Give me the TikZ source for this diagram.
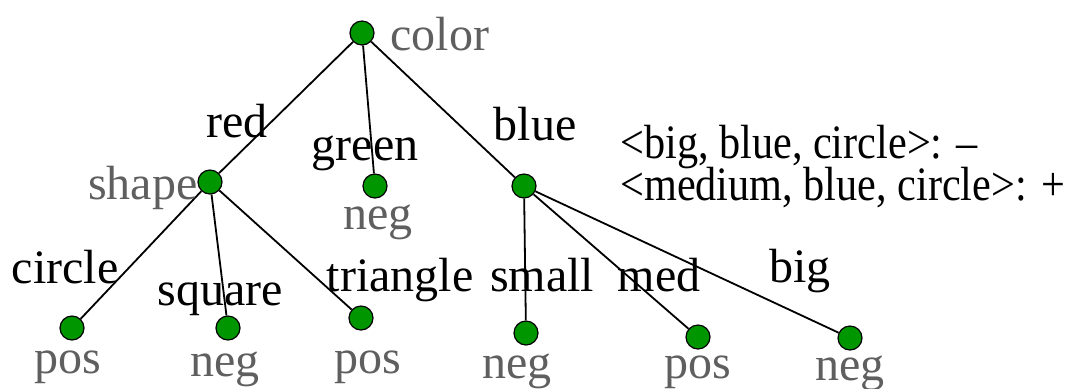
\documentclass[tikz,border=0pt]{standalone}
\usepackage{fontspec}
\usepackage{graphicx}
\setmainfont{Liberation Serif}
\definecolor{leafgreen}{RGB}{0,150,0}
\definecolor{lblgray}{RGB}{95,95,95}
\begin{document}
\begin{tikzpicture}[x=0.5pt,y=-0.5pt,
  font=\fontsize{24}{28}\selectfont,
  dot/.style={circle,draw=black,line width=0.6pt,fill=leafgreen,minimum size=12pt,inner sep=0pt},
  edge/.style={draw=black,line width=0.9pt},
  glab/.style={text=lblgray,inner sep=0pt},
  elab/.style={text=black,inner sep=0pt,anchor=base}]
\useasboundingbox (0,0) rectangle (1070,388);
% nodes
\node[dot] (color) at (362,33) {};
\node[dot] (shape) at (210,182) {};
\node[dot] (green) at (375,186) {};
\node[dot] (blue) at (524,186) {};
\node[dot] (l1) at (72,328) {};
\node[dot] (l2) at (228,328) {};
\node[dot] (l3) at (361,318) {};
\node[dot] (l4) at (526,333) {};
\node[dot] (l5) at (698,337) {};
\node[dot] (l6) at (850,338) {};
% edges
\draw[edge] (color) -- (shape);
\draw[edge] (color) -- (green);
\draw[edge] (color) -- (blue);
\draw[edge] (shape) -- (l1);
\draw[edge] (shape) -- (l2);
\draw[edge] (shape) -- (l3);
\draw[edge] (blue) -- (l4);
\draw[edge] (blue) -- (l5);
\draw[edge] (blue) -- (l6);
% attribute / class labels
\node[glab,anchor=base west] (tcolor) at (390,50) {color};
\node[glab,anchor=base east] (tshape) at (198,199) {shape};
\node[glab,anchor=base] (tgreen) at (378,229) {neg};
\node[glab,anchor=base] (t1) at (68,373) {pos};
\node[glab,anchor=base] (t2) at (225,376) {neg};
\node[glab,anchor=base] (t3) at (368,373) {pos};
\node[glab,anchor=base] (t4) at (517,378) {neg};
\node[glab,anchor=base] (t5) at (698,378) {pos};
\node[glab,anchor=base] (t6) at (850,380) {neg};
% edge labels
\node[elab] (ered) at (237,137) {red};
\node[elab] (egreen) at (365,160) {green};
\node[elab] (eblue) at (535,140) {blue};
\node[elab] (ecircle) at (65,283) {circle};
\node[elab] (esquare) at (220,305) {square};
\node[elab] (etriangle) at (400,291) {triangle};
\node[elab] (esmall) at (542,291) {small};
\node[elab] (emed) at (659,291) {med};
\node[elab] (ebig) at (800,282) {big};
% examples
\node[elab,anchor=base west] (ex1) at (620,158) {\scalebox{0.88}[1]{\textless big, blue, circle\textgreater: –}};
\node[elab,anchor=base west] (ex2) at (620,200) {\scalebox{0.88}[1]{\textless medium, blue, circle\textgreater: +}};
\end{tikzpicture}
\end{document}
